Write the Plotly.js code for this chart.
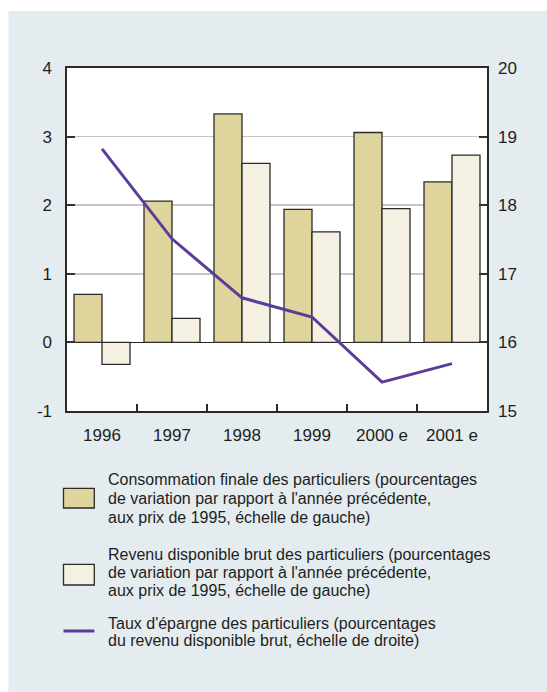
<!DOCTYPE html>
<html>
<head>
<meta charset="utf-8">
<script src="https://cdn.plot.ly/plotly-3.0.1.min.js"></script>
<style>
html,body{margin:0;padding:0;background:#fff;}
#chart{width:547px;height:692px;}
</style>
</head>
<body>
<div id="chart"></div>
<script>
// ---- data ----
const years = ["1996", "1997", "1998", "1999", "2000 e", "2001 e"];
const consommation = [0.70, 2.06, 3.33, 1.94, 3.06, 2.34];
const revenu = [-0.32, 0.35, 2.61, 1.61, 1.95, 2.73];
const epargne = [18.82, 17.51, 16.65, 16.37, 15.42, 15.69];
const leftTicks = [-1, 0, 1, 2, 3, 4];
const rightTicks = [15, 16, 17, 18, 19, 20];
const legendConso = ["Consommation finale des particuliers (pourcentages",
  "de variation par rapport à l'année précédente,",
  "aux prix de 1995, échelle de gauche)"];
const legendRevenu = ["Revenu disponible brut des particuliers (pourcentages",
  "de variation par rapport à l'année précédente,",
  "aux prix de 1995, échelle de gauche)"];
const legendTaux = ["Taux d'épargne des particuliers (pourcentages",
  "du revenu disponible brut, échelle de droite)"];

// ---- style ----
const FONT = "Liberation Sans, Arial, sans-serif";
const TXT = "#1e1e1e";
const C_CONSO = "#dfd49b";
const C_REV = "#f4f1e3";
const C_LINE = "#5b3d99";
const C_EDGE = "#2a2a2a";
const PANEL = "#e4ecef";

const M = {l: 67, r: 60, t: 68, b: 281};
const W = 547 - M.l - M.r, H = 692 - M.t - M.b;
const px = x => (x - M.l) / W;
const py = y => (692 - M.b - y) / H;

const traces = [
  {type: "bar", x: years, y: consommation, name: legendConso.join(" "),
   marker: {color: C_CONSO, line: {color: C_EDGE, width: 1.3}}, showlegend: false, hoverinfo: "skip"},
  {type: "bar", x: years, y: revenu, name: legendRevenu.join(" "),
   marker: {color: C_REV, line: {color: C_EDGE, width: 1.3}}, showlegend: false, hoverinfo: "skip"},
  {type: "scatter", mode: "lines", x: years, y: epargne, yaxis: "y2", name: legendTaux.join(" "),
   line: {color: C_LINE, width: 3}, showlegend: false, hoverinfo: "skip"}
];

const shapes = [
  // white strips outside the grey panel
  {type: "rect", xref: "paper", yref: "paper", x0: px(-20), x1: px(600), y0: py(11), y1: py(-20),
   fillcolor: "#ffffff", line: {width: 0}, layer: "below"},
  {type: "rect", xref: "paper", yref: "paper", x0: px(-20), x1: px(8.4), y0: py(720), y1: py(-20),
   fillcolor: "#ffffff", line: {width: 0}, layer: "below"},
  // legend swatches
  {type: "rect", xref: "paper", yref: "paper", x0: px(63.5), x1: px(94.3), y0: py(508), y1: py(488.3),
   fillcolor: C_CONSO, line: {color: C_EDGE, width: 1.3}},
  {type: "rect", xref: "paper", yref: "paper", x0: px(63.5), x1: px(94.3), y0: py(585), y1: py(564.3),
   fillcolor: C_REV, line: {color: C_EDGE, width: 1.3}},
  {type: "line", xref: "paper", yref: "paper", x0: px(63.5), x1: px(94.3), y0: py(631), y1: py(631),
   line: {color: C_LINE, width: 3}}
];

const annotations = [];
function addLines(lines, centers) {
  lines.forEach((t, i) => annotations.push({
    xref: "paper", yref: "paper", x: px(105.5), y: py(centers[i]),
    xanchor: "left", yanchor: "middle", showarrow: false, text: t,
    font: {family: FONT, size: 16, color: TXT}
  }));
}
addLines(legendConso, [479.5, 498.5, 517]);
addLines(legendRevenu, [554.5, 572.5, 590.5]);
addLines(legendTaux, [623, 640.5]);

const layout = {
  width: 547, height: 692,
  margin: M,
  paper_bgcolor: PANEL,
  plot_bgcolor: "#ffffff",
  font: {family: FONT, color: TXT, size: 17},
  barmode: "group", bargap: 0.2, bargroupgap: 0,
  showlegend: false,
  xaxis: {
    type: "category", tickson: "boundaries", ticks: "inside", ticklen: 7, tickwidth: 2,
    tickcolor: C_EDGE, showline: true, linecolor: C_EDGE, linewidth: 1.6, mirror: true,
    showgrid: false, zeroline: false, tickfont: {family: FONT, size: 17, color: TXT},
    ticklabelstandoff: 8
  },
  yaxis: {
    range: [-1, 4], tickvals: leftTicks, ticktext: leftTicks.map(String),
    ticks: "inside", ticklen: 8, tickwidth: 2, tickcolor: "#333",
    showline: true, linecolor: C_EDGE, linewidth: 1.6, mirror: true,
    showgrid: true, gridcolor: "#c6c6c6", gridwidth: 1.5,
    zeroline: true, zerolinecolor: C_EDGE, zerolinewidth: 1.6,
    tickfont: {family: FONT, size: 17, color: TXT}, ticklabelstandoff: 10
  },
  yaxis2: {
    range: [15, 20], overlaying: "y", side: "right", tickvals: rightTicks, ticktext: rightTicks.map(String),
    ticks: "inside", ticklen: 8, tickwidth: 2, tickcolor: "#333",
    showline: false, showgrid: false, zeroline: false,
    tickfont: {family: FONT, size: 17, color: TXT}, ticklabelstandoff: 10
  },
  shapes: shapes,
  annotations: annotations
};

Plotly.newPlot("chart", traces, layout, {staticPlot: true, displayModeBar: false});
</script>
</body>
</html>
